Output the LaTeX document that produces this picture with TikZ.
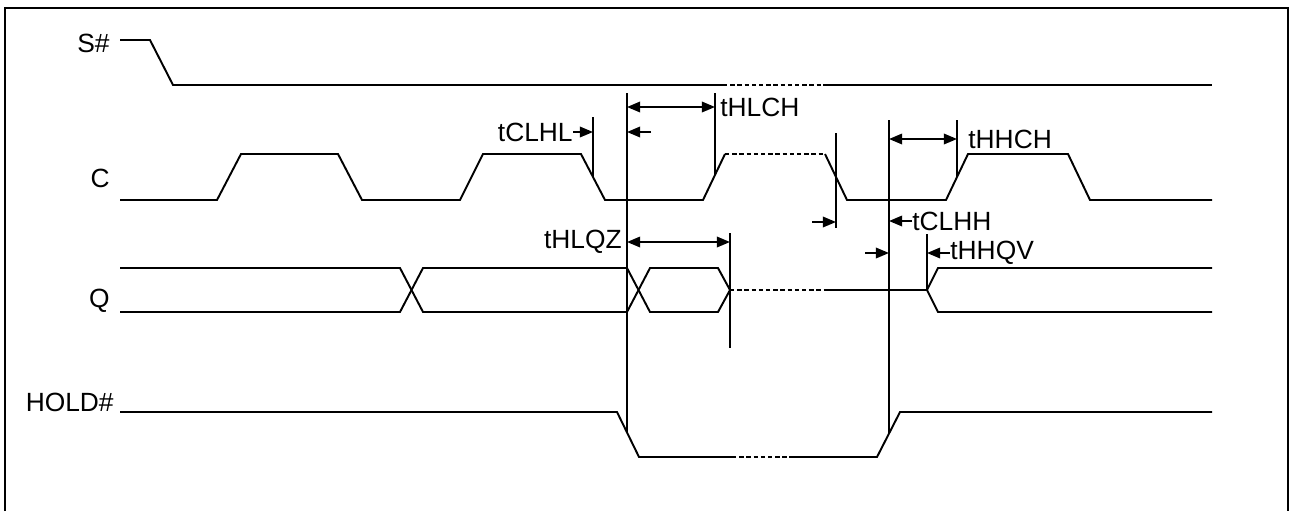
\documentclass[tikz,border=0pt]{standalone}
\usepackage{fontspec}
\setmainfont{Liberation Sans}
\usetikzlibrary{arrows.meta,positioning}

\begin{document}
\begin{tikzpicture}[x=0.02cm,y=-0.02cm,
    sig/.style={line width=1.1pt},
    dots/.style={line width=1.1pt, dash pattern=on 2.5pt off 1.6pt},
    guide/.style={line width=1.1pt},
    arr/.style={line width=1.1pt, -{Triangle[length=7.5pt,width=6pt]}},
    darr/.style={line width=1.1pt, {Triangle[length=7.5pt,width=6pt]}-{Triangle[length=7.5pt,width=6pt]}},
    lbl/.style={inner sep=0pt, font=\fontsize{15}{17}\selectfont}]
  \useasboundingbox (0,0) rectangle (1290,511);
  \draw[line width=1.5pt] (5,511) -- (5,8) -- (1288,8) -- (1288,511);

  % signal names
  \node[lbl, anchor=east] (sn) at (110,43) {S\#};
  \node[lbl, anchor=east] (cn) at (110,178) {C};
  \node[lbl, anchor=east] (qn) at (110,301) {Q};
  \node[lbl, anchor=east] (hn) at (114,402) {HOLD\#};

  % S#
  \draw[sig] (120,40) -- (150,40) -- (173,85) -- (723,85);
  \draw[dots] (723,85) -- (823,85);
  \draw[sig] (823,85) -- (1212,85);

  % C
  \draw[sig] (120,200) -- (217,200) -- (241,154) -- (338,154) -- (362,200) -- (460,200)
    -- (483,154) -- (581,154) -- (605,200) -- (703,200) -- (725,154);
  \draw[dots] (725,154) -- (825,154);
  \draw[sig] (825,154) -- (847,200) -- (946,200) -- (968,154) -- (1068,154) -- (1090,200) -- (1212,200);

  % Q
  \draw[sig] (120,268) -- (400,268) -- (423,312) -- (627,312) -- (650,268) -- (718,268) -- (730,290);
  \draw[sig] (120,312) -- (400,312) -- (423,268) -- (627,268) -- (650,312) -- (718,312) -- (730,290);
  \draw[dots] (730,290) -- (825,290);
  \draw[sig] (825,290) -- (927,290) -- (938,268) -- (1212,268);
  \draw[sig] (927,290) -- (938,312) -- (1212,312);

  % HOLD#
  \draw[sig] (120,412) -- (617,412) -- (639,457) -- (732,457);
  \draw[dots] (732,457) -- (789,457);
  \draw[sig] (789,457) -- (877,457) -- (900,412) -- (1212,412);

  % timing marks
  \coordinate (cl) at (593,117);
  \coordinate (hl) at (627,93);
  \coordinate (ch) at (715,93);
  \coordinate (qz) at (730,233);
  \coordinate (cd) at (836,133);
  \coordinate (hh) at (889,120);
  \coordinate (qv) at (927,234);
  \coordinate (hc) at (957,120);
  \draw[guide] (cl) -- (593,177);
  \draw[guide] (hl) -- (627,433);
  \draw[guide] (ch) -- (715,175);
  \draw[guide] (qz) -- (730,348);
  \draw[guide] (cd) -- (836,228);
  \draw[guide] (hh) -- (889,433);
  \draw[guide] (qv) -- (927,290);
  \draw[guide] (hc) -- (957,177);

  % timing parameters
  \node[lbl, anchor=west] (tHLCH) at (720,107) {tHLCH};
  \draw[darr] (tHLCH.west -| hl) -- (tHLCH.west -| ch);

  \node[lbl, anchor=east] (tCLHL) at (573,132) {tCLHL};
  \draw[arr] (tCLHL.east) -- (tCLHL.east -| cl);
  \coordinate (clhl0) at (651,132);
  \draw[arr] (clhl0) -- (clhl0 -| hl);

  \node[lbl, anchor=east] (tHLQZ) at (622,242) {tHLQZ};
  \draw[darr] (tHLQZ.east -| hl) -- (tHLQZ.east -| qz);

  \node[lbl, anchor=west] (tHHCH) at (968,139) {tHHCH};
  \draw[darr] (tHHCH.west -| hh) -- (tHHCH.west -| hc);

  \node[lbl, anchor=west] (tCLHH) at (912,221) {tCLHH};
  \draw[arr] (tCLHH.west) -- (tCLHH.west -| hh);
  \coordinate (clhh0) at (812,222);
  \draw[arr] (clhh0) -- (clhh0 -| cd);

  \node[lbl, anchor=west] (tHHQV) at (950,253) {tHHQV};
  \draw[arr] (tHHQV.west) -- (tHHQV.west -| qv);
  \coordinate (hhqv0) at (865,253);
  \draw[arr] (hhqv0) -- (hhqv0 -| hh);
\end{tikzpicture}
\end{document}
